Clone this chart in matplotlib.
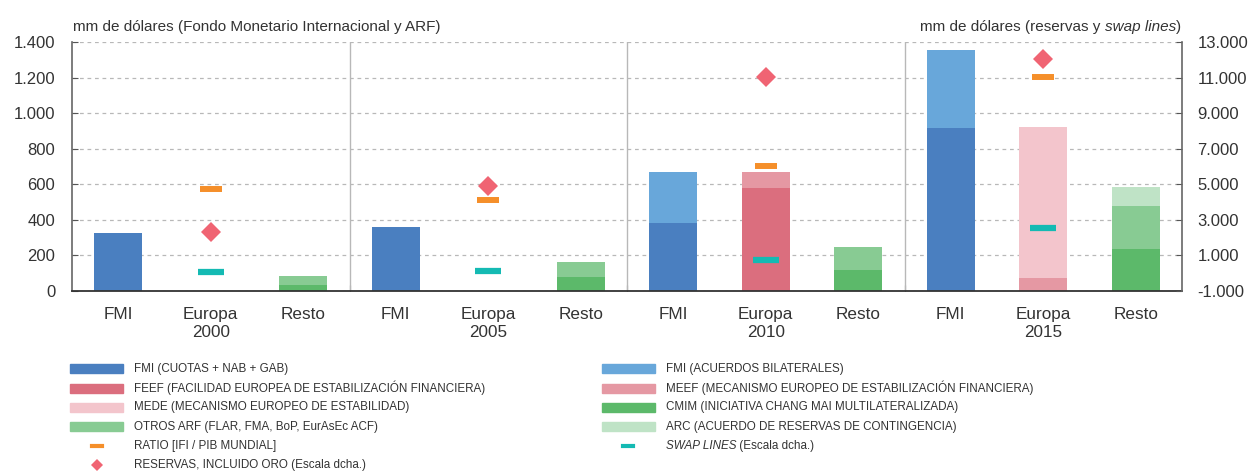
import matplotlib.pyplot as plt
from matplotlib.patches import Rectangle
from matplotlib.lines import Line2D
from matplotlib.ticker import FuncFormatter
import numpy as np

# data (mm de dolares)
years = ['2000', '2005', '2010', '2015']
fmi_cuotas = [323, 361, 383, 919]
fmi_bilat = [0, 0, 288, 438]
feef = [0, 0, 580, 0]
meef = [0, 0, 91, 70]
mede = [0, 0, 0, 851]
cmim = [32, 79, 117, 235]
otros_arf = [51, 81, 129, 241]
arc = [0, 0, 0, 108]
ratio = [573, 511, 703, 1203]          # drawn on left scale
reservas = [2300, 4900, 11050, 12050]  # right scale
swap_lines = [40, 90, 730, 2520]       # right scale

left_ticks = [0, 200, 400, 600, 800, 1000, 1200, 1400]
right_ticks = [-1000, 1000, 3000, 5000, 7000, 9000, 11000, 13000]

c_fmi1 = '#4a7fc0'
c_fmi2 = '#68a7da'
c_feef = '#db6e7e'
c_meef = '#e598a3'
c_mede = '#f3c5cc'
c_cmim = '#5cb96a'
c_otros = '#88cb93'
c_arc = '#bfe3c6'
c_ratio = '#f58f2a'
c_swap = '#14bab3'
c_res = '#f06473'
txt = '#333333'

plt.rcParams['font.family'] = ['Liberation Sans', 'DejaVu Sans']
W, H = 1252, 473
fig = plt.figure(figsize=(W / 100, H / 100), dpi=100)
ax = fig.add_axes([72 / W, 1 - 290.7 / H, (1182 - 72) / W, (290.7 - 42.3) / H])

n = len(years)
x_fmi = np.arange(n) * 3
x_eu = x_fmi + 1
x_rest = x_fmi + 2
bw = 0.52

# FMI bars
ax.bar(x_fmi, fmi_cuotas, bw, color=c_fmi1, zorder=2)
ax.bar(x_fmi, fmi_bilat, bw, bottom=fmi_cuotas, color=c_fmi2, zorder=2)
# Europa bars
b = np.array(feef)
ax.bar(x_eu, feef, bw, color=c_feef, zorder=2)
ax.bar(x_eu, meef, bw, bottom=b, color=c_meef, zorder=2)
b = b + np.array(meef)
ax.bar(x_eu, mede, bw, bottom=b, color=c_mede, zorder=2)
# Resto bars
b = np.array(cmim)
ax.bar(x_rest, cmim, bw, color=c_cmim, zorder=2)
ax.bar(x_rest, otros_arf, bw, bottom=b, color=c_otros, zorder=2)
b = b + np.array(otros_arf)
ax.bar(x_rest, arc, bw, bottom=b, color=c_arc, zorder=2)

ax.plot(x_eu, ratio, ls='none', marker='_', ms=16.5, mew=4.3, color=c_ratio, zorder=4)

ax.set_xlim(-0.5, 3 * n - 0.5)
ax.set_ylim(0, 1400)
ax.set_yticks(left_ticks)
ax.yaxis.set_major_formatter(FuncFormatter(lambda v, p: f'{int(v):,}'.replace(',', '.')))
ax.set_axisbelow(True)
ax.yaxis.grid(True, color='#b8b8b8', lw=0.9, dashes=(3, 3))
ax.tick_params(axis='y', direction='in', length=4, pad=12, labelsize=12,
               color='#555555', labelcolor=txt)

for s in [2.5, 5.5, 8.5]:
    ax.axvline(s, color='#b8b8b8', lw=1, zorder=1)

# x labels
ax.set_xticks([2.5, 5.5, 8.5])
ax.tick_params(axis='x', which='major', direction='in', length=4, labelbottom=False, color=txt)
xl = []
for y in years:
    xl += ['FMI', 'Europa\n' + y, 'Resto']
ax.set_xticks(np.arange(3 * n), minor=True)
ax.set_xticklabels(xl, minor=True)
ax.tick_params(axis='x', which='minor', length=0, pad=11.5, labelsize=12.3, labelcolor=txt)
for lab in ax.get_xticklabels(minor=True):
    lab.set_verticalalignment('top')
    lab.set_linespacing(1.3)

ax.spines['top'].set_visible(False)
ax.spines['right'].set_visible(False)
ax.spines['left'].set_color('#666666')
ax.spines['left'].set_linewidth(1.2)
ax.spines['bottom'].set_color(txt)
ax.spines['bottom'].set_linewidth(1.3)
ax.spines['bottom'].set_zorder(5)

ax2 = ax.twinx()
ax2.set_ylim(-1000, 13000)
ax2.set_yticks(right_ticks)
ax2.yaxis.set_major_formatter(FuncFormatter(lambda v, p: f'{int(v):,}'.replace(',', '.')))
ax2.tick_params(axis='y', direction='in', length=4, pad=11, labelsize=12,
                color='#555555', labelcolor=txt)
for k in ['top', 'left', 'bottom']:
    ax2.spines[k].set_visible(False)
ax2.spines['right'].set_color('#666666')
ax2.spines['right'].set_linewidth(1.2)
ax2.plot(x_eu, swap_lines, ls='none', marker='_', ms=18.7, mew=4.5, color=c_swap, zorder=4)
ax2.plot(x_eu, reservas, ls='none', marker='D', ms=10.5, color=c_res, mew=0, zorder=4)

# axis titles
fig.text(73 / W, 1 - 27 / H, 'mm de dólares (Fondo Monetario Internacional y ARF)',
         fontsize=11, color=txt, va='center', ha='left')
t1 = fig.text(1181 / W, 1 - 27 / H, ')', fontsize=11, color=txt, va='center', ha='right')
t2 = ax.annotate('swap lines', xy=(0, 0.5), xycoords=t1, fontsize=11, color=txt,
                 style='italic', ha='right', va='center')
ax.annotate('mm de dólares (reservas y ', xy=(0, 0.5), xycoords=t2, fontsize=11,
            color=txt, ha='right', va='center')

# legend (manual)
leg_font = ['Liberation Sans Narrow', 'Liberation Sans']
leg_size = 8.4
rows = [368.5, 388, 407.3, 426.7, 445.8, 465]
left_items = [(c_fmi1, 'FMI (CUOTAS + NAB + GAB)'),
              (c_feef, 'FEEF (FACILIDAD EUROPEA DE ESTABILIZACIÓN FINANCIERA)'),
              (c_mede, 'MEDE (MECANISMO EUROPEO DE ESTABILIDAD)'),
              (c_otros, 'OTROS ARF (FLAR, FMA, BoP, EurAsEc ACF)')]
right_items = [(c_fmi2, 'FMI (ACUERDOS BILATERALES)'),
               (c_meef, 'MEEF (MECANISMO EUROPEO DE ESTABILIZACIÓN FINANCIERA)'),
               (c_cmim, 'CMIM (INICIATIVA CHANG MAI MULTILATERALIZADA)'),
               (c_arc, 'ARC (ACUERDO DE RESERVAS DE CONTINGENCIA)')]

def leg_patch(x0, y, color, label):
    fig.add_artist(Rectangle((x0 / W, 1 - (y + 4.5) / H), 53 / W, 9 / H,
                             transform=fig.transFigure, color=color))
    fig.text((x0 + 63.5) / W, 1 - y / H, label, fontsize=leg_size, family=leg_font,
             color=txt, va='center', ha='left')

for i, (c, lab) in enumerate(left_items):
    leg_patch(70, rows[i], c, lab)
for i, (c, lab) in enumerate(right_items):
    leg_patch(602, rows[i], c, lab)

fig.add_artist(Line2D([91.5 / W, 101.5 / W], [1 - rows[4] / H] * 2, color=c_ratio, lw=3,
                      transform=fig.transFigure))
fig.add_artist(Line2D([97 / W], [1 - rows[5] / H], marker='D', ms=6, color=c_res, mew=0,
                      transform=fig.transFigure))
fig.text(133.5 / W, 1 - rows[4] / H, 'RATIO [IFI / PIB MUNDIAL]', fontsize=leg_size,
         family=leg_font, color=txt, va='center')
fig.text(133.5 / W, 1 - rows[5] / H, 'RESERVAS, INCLUIDO ORO (Escala dcha.)', fontsize=leg_size,
         family=leg_font, color=txt, va='center')
fig.add_artist(Line2D([623 / W, 633 / W], [1 - rows[4] / H] * 2, color=c_swap, lw=3,
                      transform=fig.transFigure))
t3 = fig.text(665.5 / W, 1 - rows[4] / H, 'SWAP LINES', fontsize=leg_size, family=leg_font,
              style='italic', color=txt, va='center')
ax.annotate(' (Escala dcha.)', xy=(1, 0.5), xycoords=t3, fontsize=leg_size, family=leg_font,
            color=txt, va='center', ha='left')

fig.savefig('out.png', dpi=100)
